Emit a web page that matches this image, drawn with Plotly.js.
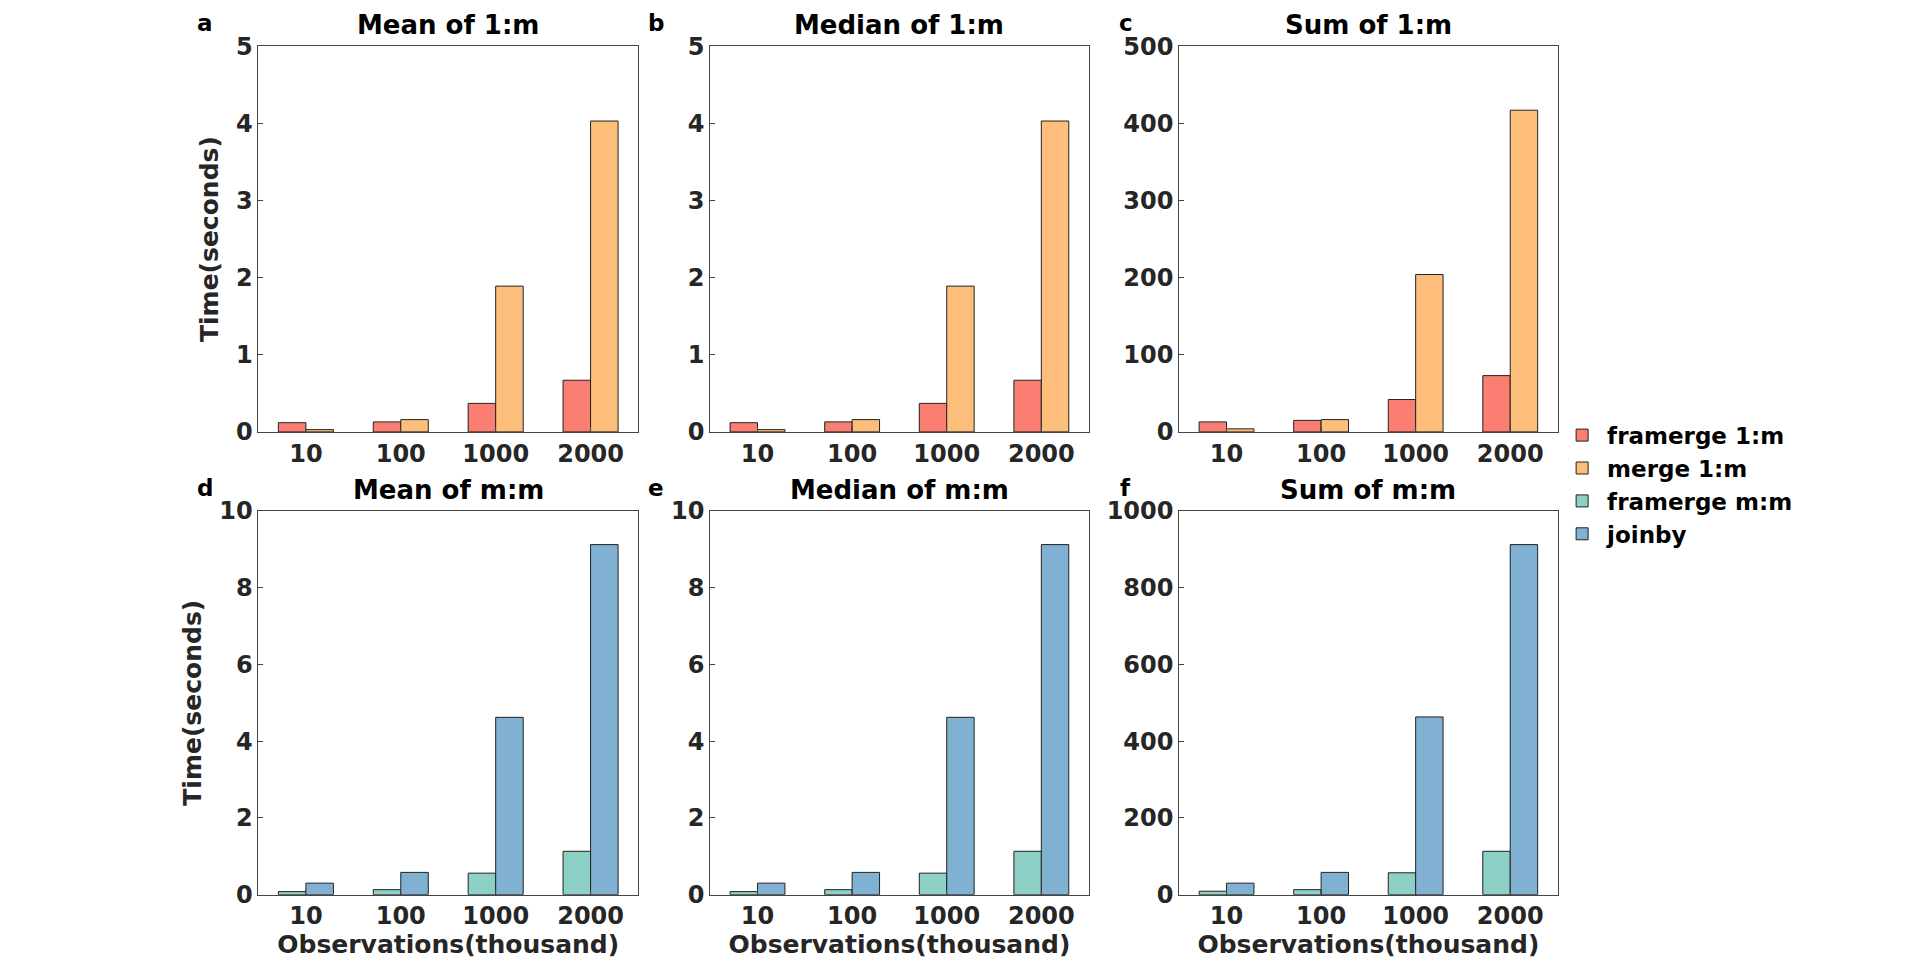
<!DOCTYPE html>
<html><head><meta charset="utf-8">
<script src="https://cdn.plot.ly/plotly-3.0.1.min.js"></script>
<style>body{margin:0;background:#fff}#graph{width:1920px;height:962px}</style>
</head><body><div id="graph"></div>
<script>
const categories = ["10", "100", "1000", "2000"]
const framerge1m = [0.12, 0.13, 0.37, 0.67]
const merge1m = [0.03, 0.16, 1.89, 4.03]
const framerge1mSum = [13, 15, 42, 73]
const merge1mSum = [4, 16, 204, 417]
const faramergeMm = [0.08, 0.13, 0.56, 1.13]
const joinbyMm = [0.30, 0.58, 4.62, 9.12]
const framergeMmSum = [9, 13, 57, 113]
const joinbyMmSum = [30, 58, 463, 912]
const titles = ["Mean of 1:m", "Median of 1:m", "Sum of 1:m", "Mean of m:m", "Median of m:m", "Sum of m:m"]
const letters = ["a", "b", "c", "d", "e", "f"]
const yMax = [5, 5, 500, 10, 10, 1000]
const yStep = [1, 1, 100, 2, 2, 200]

const colors = { f1: "#FA7F72", m1: "#FDBE7B", fm: "#8DD0C5", jb: "#80B1D3" }
const panelData = [
    [framerge1m, merge1m], [framerge1m, merge1m], [framerge1mSum, merge1mSum],
    [faramergeMm, joinbyMm], [faramergeMm, joinbyMm], [framergeMmSum, joinbyMmSum]
]
const names = [["framerge 1:m", "merge 1:m"], ["framerge m:m", "joinby"]]
const cols = [[colors.f1, colors.m1], [colors.fm, colors.jb]]

const xDom = [[0.1346, 0.3323], [0.3699, 0.5670], [0.6142, 0.8112]]
const yDom = [[0.551, 0.952], [0.070, 0.469]]
const font = { family: "DejaVu Sans", size: 24, color: "#262626" }

const traces = []
const layout = {
    width: 1920, height: 962, showlegend: true, barmode: "group", bargap: 0.42, bargroupgap: 0,
    paper_bgcolor: "#fff", plot_bgcolor: "#fff", font: font, margin: { l: 0, r: 0, t: 0, b: 0 },
    legend: { x: 0.811, y: 0.57, xanchor: "left", yanchor: "top", font: { family: "DejaVu Sans", size: 23, color: "#000" },
        bgcolor: "rgba(0,0,0,0)", tracegroupgap: 0, itemwidth: 40 },
    annotations: []
}

for (let i = 0; i < 6; i++) {
    const row = Math.floor(i / 3), col = i % 3
    const ax = i === 0 ? "" : String(i + 1)
    for (let s = 0; s < 2; s++) {
        traces.push({
            type: "bar", x: categories, y: panelData[i][s], name: "<b>" + names[row][s] + "</b>",
            marker: { color: cols[row][s], line: { color: "#222", width: 1 } },
            xaxis: "x" + ax, yaxis: "y" + ax, showlegend: col === 0, legendgroup: names[row][s]
        })
    }
    const common = { showline: true, mirror: true, linecolor: "#444", linewidth: 1, ticks: "inside", ticklen: 5,
        tickcolor: "#444", showgrid: false, zeroline: false, tickfont: { family: "DejaVu Sans", size: 24, color: "#262626" } }
    layout["xaxis" + ax] = Object.assign({}, common, { domain: xDom[col], anchor: "y" + ax, type: "category",
        title: row === 1 ? { text: "<b>Observations(thousand)</b>", font: { size: 25, color: "#262626" }, standoff: 4 } : { text: "" },
        tickprefix: "<b>", ticksuffix: "</b>" })
    layout["yaxis" + ax] = Object.assign({}, common, { domain: yDom[row], anchor: "x" + ax, range: [0, yMax[i]], dtick: yStep[i],
        tickprefix: "<b>", ticksuffix: "</b>",
        title: col === 0 ? { text: "<b>Time(seconds)</b>", font: { size: 25, color: "#262626" }, standoff: 10 } : { text: "" } })
    layout.annotations.push({ text: "<b>" + titles[i] + "</b>", xref: "paper", yref: "paper",
        x: (xDom[col][0] + xDom[col][1]) / 2, y: yDom[row][1] + 0.004, xanchor: "center", yanchor: "bottom",
        showarrow: false, font: { family: "DejaVu Sans", size: 26, color: "#000" } })
    layout.annotations.push({ text: "<b>" + letters[i] + "</b>", xref: "paper", yref: "paper",
        x: xDom[col][0] - 0.028, y: yDom[row][1] + 0.008, xanchor: "center", yanchor: "bottom",
        showarrow: false, font: { family: "DejaVu Sans", size: 23, color: "#000" } })
}

Plotly.newPlot("graph", traces, layout, { displayModeBar: false })
</script></body></html>
